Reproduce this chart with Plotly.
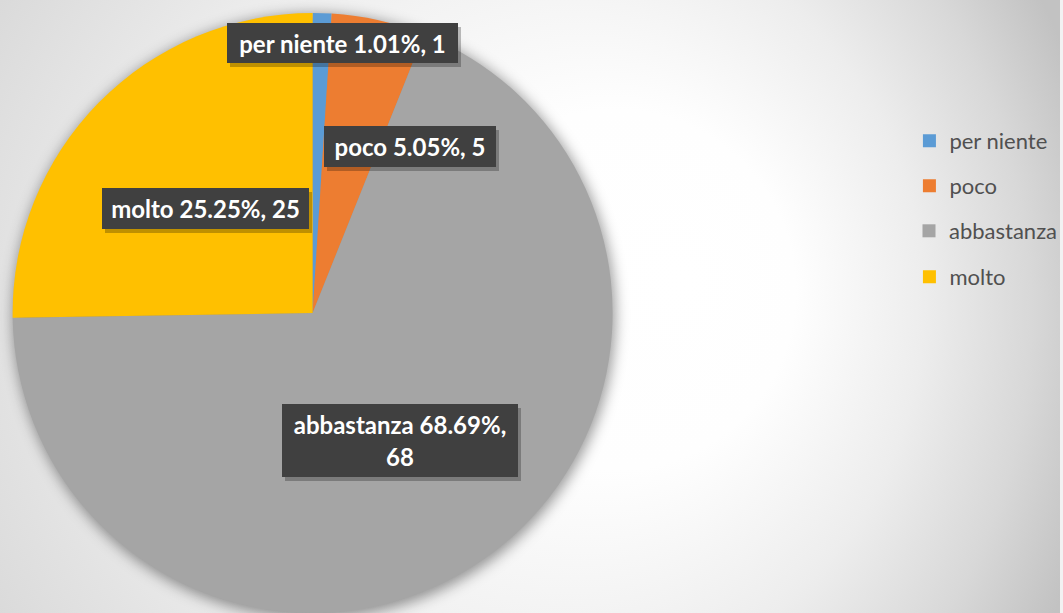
import base64
import plotly.graph_objects as go

# ---- data ----
categories = ["per niente", "poco", "abbastanza", "molto"]
values = [1, 5, 68, 25]
colors = ["#5B9BD5", "#ED7D31", "#A5A5A5", "#FFC000"]

W, H = 1063, 613

# label box positions (paper coords, centre) and sizes (px)
label_pos = [(343 / W, 1 - 43 / H), (411 / W, 1 - 147 / H),
             (401 / W, 1 - 440 / H), (206 / W, 1 - 209 / H)]
label_size = [(231, 40), (172, 41), (236, 73), (207, 41)]
legend_y = [141, 186, 231, 277]

# background radial gradient (+ soft shadow behind the pie) as an SVG image
svg = f'''<svg xmlns="http://www.w3.org/2000/svg" width="{W}" height="{H}" viewBox="0 0 {W} {H}" preserveAspectRatio="none">
<defs>
<radialGradient id="g" gradientUnits="userSpaceOnUse" cx="400" cy="320" r="720" fx="690" fy="280">
<stop offset="0" stop-color="#ffffff"/>
<stop offset="0.25" stop-color="#fefefe"/>
<stop offset="0.55" stop-color="#ededed"/>
<stop offset="0.8" stop-color="#d8d8d8"/>
<stop offset="1" stop-color="#c2c2c2"/>
</radialGradient>
<filter id="b" x="-20%" y="-20%" width="140%" height="140%"><feGaussianBlur stdDeviation="7"/></filter>
</defs>
<rect x="0" y="0" width="{W}" height="{H}" fill="url(#g)"/>
<circle cx="315" cy="316" r="302" fill="#000000" fill-opacity="0.4" filter="url(#b)"/>
</svg>'''
bg_src = "data:image/svg+xml;base64," + base64.b64encode(svg.encode()).decode()

total = sum(values)

fig = go.Figure()
fig.add_trace(go.Pie(
    labels=categories, values=values, sort=False, direction="clockwise",
    rotation=0, marker=dict(colors=colors, line=dict(width=0)),
    textinfo="none", showlegend=False, hoverinfo="label+value+percent",
    domain=dict(x=[0, 627 / W], y=[0, 1 - 13 / H]),
))

# legend entries (one legend per entry to reproduce the spacing)
legend_keys = ["legend", "legend2", "legend3", "legend4"]
for cat, col, key in zip(categories, colors, legend_keys):
    fig.add_trace(go.Scatter(
        x=[None], y=[None], mode="markers", name=cat,
        marker=dict(symbol="square", size=13, color=col),
        legend=key, showlegend=True,
    ))

annotations = []
for cat, val, (px, py), (bw, bh) in zip(categories, values, label_pos, label_size):
    pct = val / total * 100
    if cat == "abbastanza":
        txt = f"<b>{cat} {pct:.2f}%,</b><br><b>{val}</b>"
    else:
        txt = f"<b>{cat} {pct:.2f}%, {val}</b>"
    common = dict(x=px, y=py, xref="paper", yref="paper", xanchor="center",
                  yanchor="middle", showarrow=False, width=bw, height=bh,
                  borderpad=0, borderwidth=0, align="center")
    # drop shadow box (no text)
    annotations.append(dict(text=" ", bgcolor="rgba(0,0,0,0.25)",
                            font=dict(family="Lato", size=24, color="rgba(0,0,0,0)"),
                            xshift=3, yshift=-4, **common))
    annotations.append(dict(text=txt, bgcolor="#404040",
                            font=dict(family="Lato", size=24, color="#ffffff"),
                            **common))

layout_legends = {}
for key, ly in zip(legend_keys, legend_y):
    layout_legends[key] = dict(
        x=912 / W, y=1 - ly / H, xanchor="left", yanchor="middle",
        bgcolor="rgba(0,0,0,0)", borderwidth=0,
        font=dict(family="Lato", size=22, color="#505050"),
    )

fig.update_layout(
    width=W, height=H,
    margin=dict(l=0, r=0, t=0, b=0),
    paper_bgcolor="#f2f2f2", plot_bgcolor="rgba(0,0,0,0)",
    xaxis=dict(visible=False), yaxis=dict(visible=False),
    images=[dict(source=bg_src, xref="paper", yref="paper", x=0, y=1,
                 sizex=1, sizey=1, xanchor="left", yanchor="top",
                 sizing="stretch", layer="below")],
    annotations=annotations,
    **layout_legends,
)

fig.write_html("out.html", config={"displayModeBar": False},
               post_script="document.body.style.margin='0';")
